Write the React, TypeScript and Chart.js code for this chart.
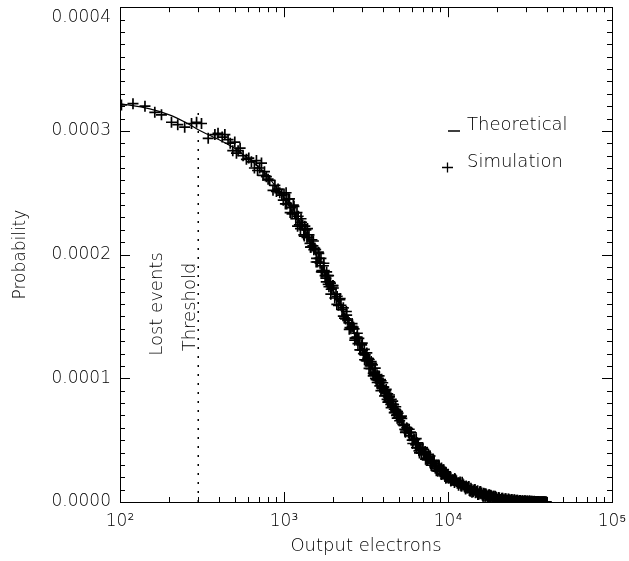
import React, { useEffect, useRef } from 'react';
import { Chart, registerables } from 'chart.js';

Chart.register(...registerables);

const FONT = '"DejaVu Sans", sans-serif';
const FONT_WEIGHT = 200;
const Y_UNIT = 1e-4; // y values below are in units of 1e-4

// Theoretical curve
const theoreticalX = [100, 150, 200, 250, 300, 400, 500, 600, 700, 800, 900, 1000, 1200, 1400, 1600, 1800, 2000, 2400, 2900, 3500, 4200, 5000, 5750, 6750, 8500, 10000, 10700, 13800, 17000, 20000, 25000, 30000, 40000];
const theoreticalY = [3.22, 3.18, 3.13, 3.07, 3.01, 2.93, 2.86, 2.78, 2.71, 2.63, 2.54, 2.46, 2.28, 2.13, 1.97, 1.83, 1.71, 1.49, 1.27, 1.06, 0.87, 0.69, 0.56, 0.425, 0.283, 0.205, 0.178, 0.097, 0.052, 0.030, 0.013, 0.006, 0.001];

// Simulation points
const simulationX = [
  102, 120, 142, 163, 179, 206, 225, 248, 273, 293, 314, 345, 379, 396, 436, 456, 487, 501, 513, 525, 563, 590, 633, 679, 690, 729, 745, 781, 818, 857, 899, 942, 970,
  420, 470, 540, 610, 660, 710, 760, 800, 880, 920, 990,
  1000, 1040, 1080, 1120, 1160, 1200, 1240, 1280, 1320, 1360, 1400, 1440, 1480, 1520, 1560, 1600, 1640, 1680, 1720, 1760, 1800, 1840, 1880, 1920, 1960, 2000,
  1020, 1060, 1100, 1140, 1180, 1220, 1260, 1300, 1340, 1380, 1420, 1460, 1500, 1540, 1580, 1620, 1660, 1700, 1740, 1780, 1820, 1860, 1900, 1940, 1980,
  1030, 1090, 1150, 1210, 1270, 1330, 1390, 1450, 1510, 1570, 1630, 1690, 1750, 1810, 1870, 1930, 1990,
  2075, 2150, 2225, 2300, 2375, 2450, 2525, 2600, 2675, 2750, 2825, 2900, 2975, 3050, 3125, 3200, 3275, 3350, 3425, 3500, 3575, 3650, 3725, 3800, 3875, 3950, 4025, 4100, 4175, 4250, 4325, 4400, 4475, 4550, 4625, 4700, 4775, 4850, 4925, 5000,
  2040, 2110, 2190, 2260, 2340, 2410, 2490, 2560, 2640, 2710, 2790, 2860, 2940, 3010, 3090, 3160, 3240, 3310, 3390, 3460, 3540, 3610, 3690, 3760, 3840, 3910, 3990, 4060, 4140, 4210, 4290, 4360, 4440, 4510, 4590, 4660, 4740, 4810, 4890, 4960,
  2100, 2200, 2300, 2400, 2500, 2600, 2700, 2800, 2900, 3000, 3100, 3200, 3300, 3400, 3500, 3600, 3700, 3800, 3900, 4000, 4100, 4200, 4300, 4400, 4500, 4600, 4700, 4800, 4900,
  5150, 5300, 5450, 5600, 5750, 5900, 6050, 6200, 6350, 6500, 6650, 6800, 6950, 7100, 7250, 7400, 7550, 7700, 7850, 8000, 8150, 8300, 8450, 8600, 8750, 8900, 9050, 9200, 9350, 9500, 9650, 9800, 9950,
  5075, 5225, 5375, 5525, 5675, 5825, 5975, 6125, 6275, 6425, 6575, 6725, 6875, 7025, 7175, 7325, 7475, 7625, 7775, 7925, 8075, 8225, 8375, 8525, 8675, 8825, 8975, 9125, 9275, 9425, 9575, 9725, 9875,
  5200, 5500, 5800, 6100, 6400, 6700, 7000, 7300, 7600, 7900, 8200, 8500, 8800, 9100, 9400, 9700,
  10200, 10500, 10800, 11100, 11400, 11700, 12000, 12300, 12600, 12900, 13200, 13500, 13800, 14100, 14400, 14700, 15000, 15300, 15600, 15900, 16200, 16500, 16800, 17100, 17400, 17700, 18000, 18300, 18600, 18900, 19200, 19500, 19800,
  10050, 10350, 10650, 10950, 11250, 11550, 11850, 12150, 12450, 12750, 13050, 13350, 13650, 13950, 14250, 14550, 14850, 15150, 15450, 15750, 16050, 16350, 16650, 16950, 17250, 17550, 17850, 18150, 18450, 18750, 19050, 19350, 19650,
  10400, 11000, 11600, 12200, 12800, 13400, 14000, 14600, 15200, 15800, 16400, 17000, 17600, 18200, 18800, 19400,
  20300, 20800, 21300, 21800, 22300, 22800, 23300, 23800, 24300, 24800, 25300, 25800, 26300, 26800, 27300, 27800, 28300, 28800, 29300, 29800, 30300, 30800, 31300, 31800, 32300, 32800, 33300, 33800, 34300, 34800, 35300, 35800, 36300, 36800, 37300, 37800, 38300, 38800, 39300, 39800,
  20050, 20550, 21050, 21550, 22050, 22550, 23050, 23550, 24050, 24550, 25050, 25550, 26050, 26550, 27050, 27550, 28050, 28550, 29050, 29550, 30050, 30550, 31050, 31550, 32050, 32550, 33050, 33550, 34050, 34550, 35050, 35550, 36050, 36550, 37050, 37550, 38050, 38550, 39050, 39550,
];
const simulationY = [
  3.21, 3.22, 3.20, 3.15, 3.13, 3.07, 3.05, 3.03, 3.06, 3.07, 3.06, 2.94, 2.97, 2.98, 2.97, 2.93, 2.84, 2.91, 2.82, 2.84, 2.80, 2.77, 2.75, 2.76, 2.68, 2.74, 2.64, 2.63, 2.60, 2.52, 2.51, 2.50, 2.48,
  2.95, 2.90, 2.86, 2.78, 2.70, 2.70, 2.67, 2.61, 2.56, 2.53, 2.44,
  2.49, 2.41, 2.45, 2.33, 2.34, 2.34, 2.24, 2.26, 2.16, 2.20, 2.14, 2.09, 2.12, 2.04, 2.04, 1.94, 1.97, 1.97, 1.86, 1.87, 1.81, 1.83, 1.74, 1.77, 1.73, 1.73,
  2.41, 2.45, 2.38, 2.40, 2.29, 2.31, 2.21, 2.24, 2.23, 2.14, 2.16, 2.06, 2.07, 2.05, 1.97, 2.02, 1.93, 1.87, 1.91, 1.83, 1.86, 1.76, 1.78, 1.72, 1.75,
  2.50, 2.34, 2.39, 2.23, 2.29, 2.15, 2.21, 2.06, 2.11, 1.94, 2.01, 1.86, 1.93, 1.78, 1.83, 1.68, 1.75,
  1.68, 1.59, 1.59, 1.57, 1.48, 1.47, 1.41, 1.42, 1.40, 1.33, 1.28, 1.28, 1.27, 1.20, 1.19, 1.14, 1.16, 1.10, 1.12, 1.04, 1.05, 0.99, 1.02, 0.98, 0.99, 0.92, 0.93, 0.89, 0.90, 0.83, 0.85, 0.85, 0.79, 0.79, 0.79, 0.75, 0.75, 0.70, 0.73, 0.68,
  1.649, 1.662, 1.635, 1.554, 1.487, 1.511, 1.450, 1.400, 1.414, 1.324, 1.333, 1.323, 1.231, 1.227, 1.234, 1.144, 1.161, 1.152, 1.079, 1.109, 1.034, 1.000, 1.029, 0.995, 0.938, 0.979, 0.917, 0.928, 0.861, 0.878, 0.875, 0.814, 0.811, 0.830, 0.767, 0.787, 0.724, 0.743, 0.705, 0.719,
  1.597, 1.645, 1.503, 1.540, 1.396, 1.442, 1.308, 1.364, 1.230, 1.285, 1.150, 1.205, 1.080, 1.135, 1.020, 1.083, 0.966, 1.019, 0.901, 0.964, 0.857, 0.910, 0.808, 0.865, 0.763, 0.815, 0.723, 0.770, 0.678,
  0.684, 0.628, 0.587, 0.601, 0.560, 0.565, 0.500, 0.509, 0.464, 0.479, 0.414, 0.426, 0.429, 0.386, 0.409, 0.352, 0.360, 0.363, 0.311, 0.333, 0.331, 0.284, 0.292, 0.258, 0.295, 0.257, 0.269, 0.227, 0.249, 0.221, 0.243, 0.200, 0.218,
  0.657, 0.676, 0.620, 0.574, 0.593, 0.535, 0.560, 0.499, 0.504, 0.439, 0.469, 0.433, 0.395, 0.428, 0.381, 0.398, 0.341, 0.364, 0.372, 0.315, 0.313, 0.325, 0.273, 0.297, 0.249, 0.286, 0.248, 0.275, 0.228, 0.245, 0.207, 0.234, 0.201,
  0.695, 0.563, 0.588, 0.473, 0.512, 0.397, 0.440, 0.346, 0.386, 0.297, 0.337, 0.253, 0.297, 0.222, 0.261, 0.191,
  0.207, 0.174, 0.180, 0.182, 0.152, 0.152, 0.129, 0.148, 0.123, 0.130, 0.116, 0.093, 0.112, 0.087, 0.097, 0.074, 0.084, 0.063, 0.083, 0.067, 0.056, 0.071, 0.046, 0.057, 0.045, 0.057, 0.034, 0.050, 0.038, 0.047, 0.028, 0.039, 0.025,
  0.193, 0.203, 0.175, 0.157, 0.172, 0.156, 0.162, 0.129, 0.138, 0.115, 0.114, 0.121, 0.087, 0.102, 0.083, 0.097, 0.078, 0.091, 0.064, 0.072, 0.073, 0.049, 0.067, 0.047, 0.055, 0.039, 0.058, 0.038, 0.046, 0.031, 0.046, 0.031, 0.039,
  0.170, 0.190, 0.136, 0.159, 0.105, 0.125, 0.078, 0.102, 0.061, 0.085, 0.046, 0.066, 0.034, 0.055, 0.027, 0.046,
  0.036, 0.021, 0.031, 0.018, 0.027, 0.014, 0.024, 0.012, 0.021, 0.009, 0.018, 0.008, 0.015, 0.006, 0.013, 0.005, 0.011, 0.004, 0.010, 0.003, 0.009, 0.002, 0.008, 0.002, 0.006, 0.001, 0.005, 0.001, 0.004, 0.000, 0.004, 0.000, 0.003, 0.000, 0.002, 0.000, 0.002, 0.000, 0.001, 0.000,
  0.022, 0.034, 0.019, 0.030, 0.016, 0.026, 0.013, 0.023, 0.011, 0.020, 0.008, 0.017, 0.006, 0.015, 0.005, 0.013, 0.004, 0.011, 0.003, 0.010, 0.002, 0.009, 0.001, 0.008, 0.001, 0.007, 0.000, 0.006, 0.000, 0.005, 0.000, 0.004, 0.000, 0.003, 0.000, 0.003, 0.000, 0.002, 0.000, 0.001,
];

const thresholdX = 300;
const thresholdTop = 3.19;

// Axes / ticks
const xMin = 100;
const xMax = 100000;
const xTickDecades = [100, 1000, 10000];
const xTickMantissas = [1, 2, 3, 4, 5, 6, 7, 8, 9];
const yMax = 4;
const yMinorCount = 40; // minor steps between 0 and yMax
const yMinorPerMajor = 10;

const legendLabels = ['Theoretical', 'Simulation'];
const annotationLabels = ['Lost events', 'Threshold'];

const SUP: Record<string, string> = { '0': '⁰', '1': '¹', '2': '²', '3': '³', '4': '⁴', '5': '⁵', '6': '⁶', '7': '⁷', '8': '⁸', '9': '⁹' };

const xTickValues: number[] = [];
xTickDecades.forEach((d) => xTickMantissas.forEach((m) => xTickValues.push(d * m)));
xTickValues.push(xMax);
const yTickValues: number[] = [];
for (let i = 0; i <= yMinorCount; i++) yTickValues.push(+((i * yMax * Y_UNIT) / yMinorCount).toPrecision(6));

const isDecade = (v: number) => Math.abs(Math.log10(v) - Math.round(Math.log10(v))) < 1e-9;

const decorPlugin = {
  id: 'decor',
  afterDatasetsDraw(chart: any) {
    const { ctx, chartArea, scales } = chart;
    const { left, right, top, bottom } = chartArea;
    const xs = scales.x;
    const ys = scales.y;
    ctx.save();
    ctx.strokeStyle = '#000';
    ctx.lineWidth = 1;
    ctx.strokeRect(Math.round(left) + 0.5, Math.round(top) + 0.5, Math.round(right - left), Math.round(bottom - top));
    ctx.beginPath();
    xs.ticks.forEach((t: any) => {
      const px = Math.round(xs.getPixelForValue(t.value)) + 0.5;
      const len = isDecade(t.value) ? 10 : 5;
      ctx.moveTo(px, bottom);
      ctx.lineTo(px, bottom - len);
      ctx.moveTo(px, top);
      ctx.lineTo(px, top + len);
    });
    ys.ticks.forEach((t: any, i: number) => {
      const py = Math.round(ys.getPixelForValue(t.value)) + 0.5;
      const len = i % yMinorPerMajor === 0 ? 10 : 5;
      ctx.moveTo(left, py);
      ctx.lineTo(left + len, py);
      ctx.moveTo(right, py);
      ctx.lineTo(right - len, py);
    });
    ctx.stroke();

    const tx = xs.getPixelForValue(thresholdX);
    ctx.fillStyle = '#000';
    ctx.font = `${FONT_WEIGHT} 18px ${FONT}`;
    ctx.textAlign = 'center';
    ctx.textBaseline = 'middle';
    ctx.save();
    ctx.translate(tx - 41, 304);
    ctx.rotate(-Math.PI / 2);
    ctx.fillText(annotationLabels[0], 0, 0);
    ctx.restore();
    ctx.save();
    ctx.translate(tx - 8, 307);
    ctx.rotate(-Math.PI / 2);
    ctx.fillText(annotationLabels[1], 0, 0);
    ctx.restore();

    ctx.textAlign = 'left';
    ctx.fillText(legendLabels[0], 467, 125);
    ctx.fillText(legendLabels[1], 467, 162);
    ctx.lineWidth = 1.3;
    ctx.beginPath();
    ctx.moveTo(448, 131);
    ctx.lineTo(460, 131);
    ctx.moveTo(442, 167.5);
    ctx.lineTo(453, 167.5);
    ctx.moveTo(447.5, 162.5);
    ctx.lineTo(447.5, 172.5);
    ctx.stroke();
    ctx.restore();
  },
};

export default function App() {
  const ref = useRef<HTMLCanvasElement>(null);
  useEffect(() => {
    document.body.style.margin = '0';
    const canvas = ref.current;
    if (!canvas) return;
    const chart = new Chart(canvas, {
      type: 'scatter',
      data: {
        datasets: [
          {
            label: 'Simulation',
            data: simulationX.map((x, i) => ({ x, y: simulationY[i] * Y_UNIT })),
            showLine: false,
            pointStyle: 'cross',
            pointRadius: 5.5,
            pointBorderWidth: 1.7,
            borderColor: '#000',
            backgroundColor: '#000',
          },
          {
            label: 'Theoretical',
            data: theoreticalX.map((x, i) => ({ x, y: theoreticalY[i] * Y_UNIT })),
            showLine: true,
            pointRadius: 0,
            borderWidth: 1.2,
            borderColor: '#000',
            cubicInterpolationMode: 'monotone',
          },
          {
            label: 'Threshold',
            data: [
              { x: thresholdX, y: 0 },
              { x: thresholdX, y: thresholdTop * Y_UNIT },
            ],
            showLine: true,
            pointRadius: 0,
            borderWidth: 1.5,
            borderColor: '#000',
            borderDash: [2, 7],
          },
        ],
      },
      options: {
        animation: false,
        responsive: false,
        devicePixelRatio: 1,
        layout: { padding: { top: 6, right: 17, left: 0, bottom: 0 } },
        plugins: { legend: { display: false }, tooltip: { enabled: false } },
        scales: {
          x: {
            type: 'logarithmic',
            min: xMin,
            max: xMax,
            afterBuildTicks: (s: any) => {
              s.ticks = xTickValues.map((v) => ({ value: v }));
            },
            afterFit: (s: any) => {
              s.height = 59;
              s.paddingLeft = 0;
              s.paddingRight = 0;
            },
            grid: { display: false, drawTicks: false },
            border: { display: false },
            ticks: {
              autoSkip: false,
              maxRotation: 0,
              minRotation: 0,
              padding: 9,
              color: '#000',
              font: { family: FONT, size: 17, weight: FONT_WEIGHT },
              callback: (v: any) => {
                const n = Number(v);
                if (!isDecade(n)) return '';
                const e = String(Math.round(Math.log10(n)));
                return '10' + e.split('').map((c) => SUP[c]).join('');
              },
            },
            title: {
              display: true,
              text: 'Output electrons',
              color: '#000',
              font: { family: FONT, size: 18, weight: FONT_WEIGHT },
              padding: { top: 0, bottom: 4 },
            },
          },
          y: {
            type: 'linear',
            min: 0,
            max: yMax * Y_UNIT,
            afterBuildTicks: (s: any) => {
              s.ticks = yTickValues.map((v) => ({ value: v }));
            },
            afterFit: (s: any) => {
              s.width = 120;
              s.paddingTop = 0;
              s.paddingBottom = 0;
            },
            grid: { display: false, drawTicks: false },
            border: { display: false },
            ticks: {
              autoSkip: false,
              padding: 9,
              color: '#000',
              font: { family: FONT, size: 17, weight: FONT_WEIGHT },
              callback: (v: any, i: number) => {
                const n = Number(v);
                if (Math.round(n / (Y_UNIT / yMinorPerMajor)) % yMinorPerMajor !== 0) return '';
                return i === yMinorCount ? ['', n.toFixed(4)] : n.toFixed(4);
              },
            },
            title: {
              display: true,
              text: 'Probability',
              color: '#000',
              font: { family: FONT, size: 17, weight: FONT_WEIGHT },
              padding: { top: 10, bottom: 0 },
            },
          },
        },
      },
      plugins: [decorPlugin],
    } as any);
    return () => chart.destroy();
  }, []);
  return (
    <div style={{ width: 629, height: 561, background: '#fff' }}>
      <canvas ref={ref} width={629} height={561} style={{ display: 'block' }} />
    </div>
  );
}
